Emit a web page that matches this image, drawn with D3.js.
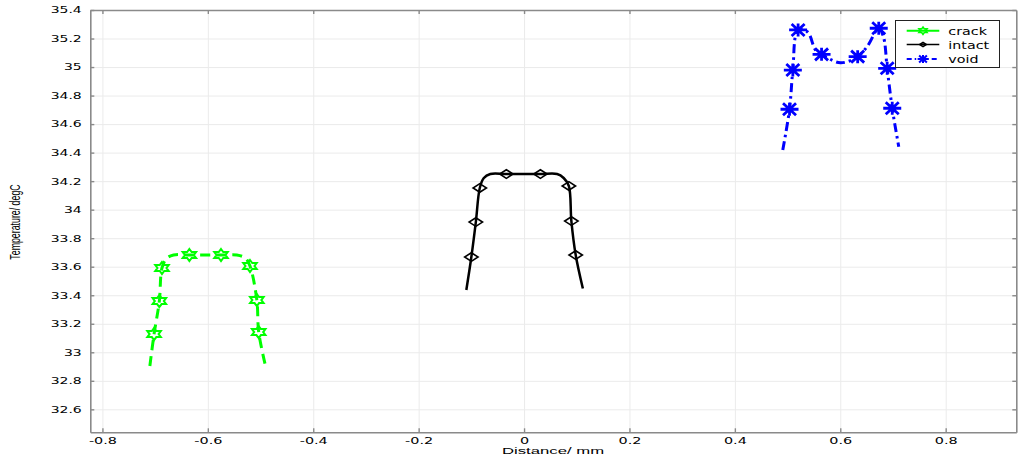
<!DOCTYPE html>
<html>
<head>
<meta charset="utf-8">
<script src="https://cdn.jsdelivr.net/npm/d3@7"></script>
<style>
  html, body { margin: 0; padding: 0; background: #ffffff; }
  svg { display: block; }
</style>
</head>
<body>
<svg id="chart" width="1024" height="461"></svg>
<script>
// ---------- data ----------
const xTicks = [-0.8, -0.6, -0.4, -0.2, 0, 0.2, 0.4, 0.6, 0.8];
const yTicks = [32.6, 32.8, 33, 33.2, 33.4, 33.6, 33.8, 34, 34.2, 34.4, 34.6, 34.8, 35, 35.2, 35.4];
const seriesNames = ["crack", "intact", "void"];

// curve points
const crackX = [-0.710, -0.702, -0.692, -0.687, -0.678, -0.665, -0.635, -0.575, -0.545, -0.529, -0.520, -0.507, -0.5035, -0.491];
const crackT = [32.904, 33.128, 33.359, 33.591, 33.659, 33.682, 33.682, 33.682, 33.682, 33.661, 33.605, 33.366, 33.142, 32.911];
const intactX = [-0.1095, -0.100, -0.0915, -0.084, -0.0767, -0.064, -0.0336, 0.031, 0.0627, 0.0752, 0.085, 0.0898, 0.098, 0.1116];
const intactT = [33.437, 33.668, 33.913, 34.152, 34.220, 34.250, 34.250, 34.250, 34.250, 34.222, 34.166, 33.920, 33.682, 33.447];
const voidX = [0.4909, 0.5037, 0.510, 0.520, 0.538, 0.553, 0.5645, 0.591, 0.6005, 0.613, 0.633, 0.651, 0.673, 0.682, 0.689, 0.6986, 0.711];
const voidT = [34.418, 34.704, 34.979, 35.260, 35.246, 35.119, 35.089, 35.037, 35.030, 35.037, 35.073, 35.143, 35.272, 35.211, 34.991, 34.711, 34.441];

// marker points
const crackMarkX = [-0.702, -0.692, -0.687, -0.635, -0.575, -0.520, -0.507, -0.5035];
const crackMarkT = [33.128, 33.359, 33.591, 33.682, 33.682, 33.605, 33.366, 33.142];
const intactMarkX = [-0.100, -0.0915, -0.084, -0.0336, 0.031, 0.085, 0.0898, 0.098];
const intactMarkT = [33.668, 33.913, 34.152, 34.250, 34.250, 34.166, 33.920, 33.682];
const voidMarkX = [0.5037, 0.510, 0.520, 0.5645, 0.633, 0.673, 0.689, 0.6986];
const voidMarkT = [34.704, 34.979, 35.260, 35.089, 35.073, 35.272, 34.991, 34.711];

// ---------- layout ----------
const svg = d3.select("#chart");
const L = 90.3, R = 1016.3, T = 10, B = 432.3;
const x = d3.scaleLinear().domain([-0.823, 0.934]).range([L, R]);
const y = d3.scaleLinear().domain([32.439, 35.4]).range([B, T]);
const fmt = d => String(Math.round(d * 10) / 10);
const frameColor = "#8a8a8a";
const tickFont = "'DejaVu Sans', Verdana, sans-serif";
const SX = 1.6;

// grid
const grid = svg.append("g").attr("class", "grid");
grid.append("g").attr("transform", `translate(0,${B})`)
  .call(d3.axisBottom(x).tickValues(xTicks).tickSize(-(B - T)).tickFormat(""))
  .call(g => g.select(".domain").remove())
  .call(g => g.selectAll("line").attr("stroke", "#ebebeb").attr("stroke-width", 1));
grid.append("g").attr("transform", `translate(${L},0)`)
  .call(d3.axisLeft(y).tickValues(yTicks).tickSize(-(R - L)).tickFormat(""))
  .call(g => g.select(".domain").remove())
  .call(g => g.selectAll("line").attr("stroke", "#ebebeb").attr("stroke-width", 1));

// ---------- series ----------
const zip = (xs, ts) => xs.map((v, i) => [v, ts[i]]);
const line = d3.line().x(d => x(d[0])).y(d => y(d[1])).curve(d3.curveCatmullRom.alpha(0.5));

const styles = {
  crack: { color: "#00ff00", width: 3, dash: "10,6" },
  intact: { color: "#000000", width: 2.5, dash: null },
  void: { color: "#0000ff", width: 3, dash: "9,4,2.5,4" }
};

function hexagram(s) {
  const R0 = 6 * s, r0 = R0 / Math.sqrt(3), kx = 1.3;
  const pts = [];
  for (let k = 0; k < 12; k++) {
    const a = -Math.PI / 2 + k * Math.PI / 6;
    const rr = k % 2 === 0 ? R0 : r0;
    pts.push([Math.cos(a) * rr * kx, Math.sin(a) * rr]);
  }
  return "M" + pts.map(p => p[0].toFixed(2) + "," + p[1].toFixed(2)).join("L") + "Z";
}
function diamond(s) {
  const w = 6.7 * s, h = 4.3 * s;
  return `M0,${-h}L${w},0L0,${h}L${-w},0Z`;
}
function asterisk(s) {
  const w = 9 * s, h = 6.5 * s, dw = 6.5 * s, dh = 6 * s;
  return `M${-w},0L${w},0M0,${-h}L0,${h}M${-dw},${-dh}L${dw},${dh}M${-dw},${dh}L${dw},${-dh}`;
}
const markerFn = { crack: hexagram, intact: diamond, void: asterisk };
const markerW = { crack: 2, intact: 1.6, void: 2.8 };

const series = [
  { name: "crack", pts: zip(crackX, crackT), marks: zip(crackMarkX, crackMarkT) },
  { name: "intact", pts: zip(intactX, intactT), marks: zip(intactMarkX, intactMarkT) },
  { name: "void", pts: zip(voidX, voidT), marks: zip(voidMarkX, voidMarkT) }
];

const plot = svg.append("g");
series.forEach(s => {
  const st = styles[s.name];
  plot.append("path").datum(s.pts)
    .attr("d", line)
    .attr("fill", "none")
    .attr("stroke", st.color)
    .attr("stroke-width", st.width)
    .attr("stroke-dasharray", st.dash)
    .attr("stroke-linejoin", "round");
  plot.selectAll(null).data(s.marks).enter().append("path")
    .attr("transform", d => `translate(${x(d[0])},${y(d[1])})`)
    .attr("d", markerFn[s.name](1))
    .attr("fill", "none")
    .attr("stroke", st.color)
    .attr("stroke-width", markerW[s.name])
    .attr("stroke-linejoin", "miter");
});

// ---------- axes / frame ----------
const styleAxis = g => {
  g.select(".domain").attr("stroke", frameColor).attr("stroke-width", 1.6);
  g.selectAll(".tick line").attr("stroke", frameColor).attr("stroke-width", 1.4);
};
const gx = svg.append("g").attr("transform", `translate(0,${B})`)
  .call(d3.axisBottom(x).tickValues(xTicks).tickSize(-4).tickSizeOuter(0).tickPadding(5.5).tickFormat(fmt))
  .call(styleAxis);
gx.selectAll("text").attr("font-family", tickFont).attr("font-size", 9).attr("fill", "#000")
  .attr("transform", `scale(${SX},1)`);

const gy = svg.append("g").attr("transform", `translate(${L},0)`)
  .call(d3.axisLeft(y).tickValues(yTicks).tickSize(-4).tickSizeOuter(0).tickPadding(8.6).tickFormat(fmt))
  .call(styleAxis);
gy.selectAll("text").attr("font-family", tickFont).attr("font-size", 9).attr("fill", "#000")
  .attr("x", -8.6 / 1.55).attr("transform", "scale(1.55,1)");

svg.append("g").attr("transform", `translate(0,${T})`)
  .call(d3.axisTop(x).tickValues(xTicks).tickSize(-4).tickSizeOuter(0).tickFormat(""))
  .call(styleAxis);
svg.append("g").attr("transform", `translate(${R},0)`)
  .call(d3.axisRight(y).tickValues(yTicks).tickSize(-4).tickSizeOuter(0).tickFormat(""))
  .call(styleAxis);

// axis titles
svg.append("text")
  .attr("transform", `translate(553,454.3) scale(1.9,1)`)
  .attr("text-anchor", "middle")
  .attr("font-family", "'Liberation Sans', Arial, sans-serif")
  .attr("font-size", 8.8)
  .attr("fill", "#000")
  .text("Distance/ mm");
svg.append("text")
  .attr("transform", `translate(19.5,222) rotate(-90) scale(1,1.6)`)
  .attr("text-anchor", "middle")
  .attr("font-family", "'Liberation Sans', Arial, sans-serif")
  .attr("font-size", 8.8)
  .attr("fill", "#000")
  .text("Temperature/ degC");

// ---------- legend ----------
const lg = svg.append("g");
lg.append("rect").attr("x", 895.5).attr("y", 20.5).attr("width", 104).attr("height", 47)
  .attr("fill", "#fff").attr("stroke", "#222").attr("stroke-width", 1);
const rowY = [30.7, 44.5, 59];
seriesNames.forEach((n, i) => {
  const st = styles[n];
  const yy = rowY[i];
  lg.append("path").datum([[906.7, yy], [939.3, yy]])
    .attr("d", d3.line())
    .attr("stroke", st.color).attr("stroke-width", n === "intact" ? 1.6 : 2)
    .attr("stroke-dasharray", n === "void" ? "5,3,1.5,3" : null)
    .attr("fill", "none");
  lg.append("path").attr("transform", `translate(923,${yy})`)
    .attr("d", markerFn[n](n === "intact" ? 0.5 : 0.6))
    .attr("fill", "none").attr("stroke", st.color).attr("stroke-width", n === "void" ? 2 : 1.6);
  lg.append("text").attr("transform", `translate(948.3,${yy + 4.3}) scale(1.3,1)`)
    .attr("font-family", tickFont).attr("font-size", 11).attr("fill", "#000")
    .text(n);
});
</script>
</body>
</html>
